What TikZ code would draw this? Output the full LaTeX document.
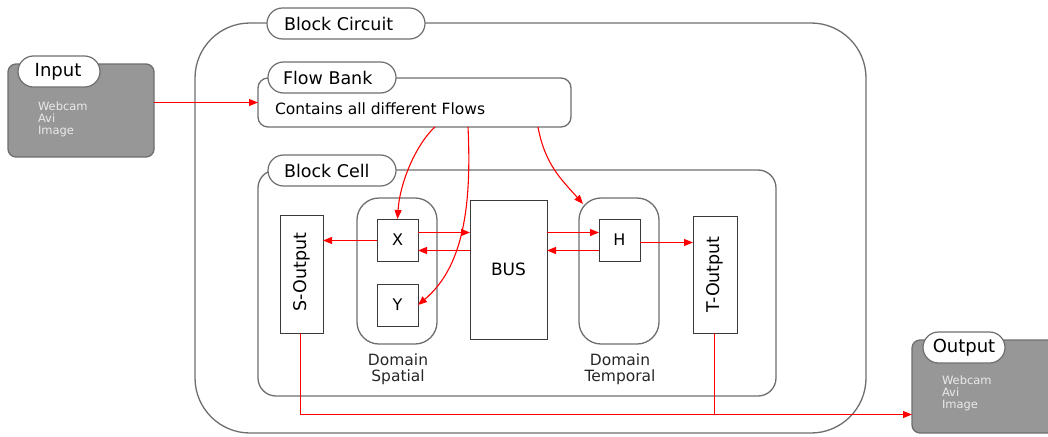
\documentclass[tikz,border=0pt]{standalone}
\usepackage{fontspec}
\setmainfont{DejaVu Sans}
\usetikzlibrary{arrows.meta,calc}
\definecolor{bord}{HTML}{6E6E6E}
\definecolor{darkb}{HTML}{3A3A3A}
\definecolor{gfill}{HTML}{979797}
\definecolor{ltxt}{HTML}{EAEAEA}
\definecolor{lnred}{HTML}{FF0000}
\begin{document}
\begin{tikzpicture}[x=1pt,y=-1pt,
  every node/.style={inner sep=0pt, outer sep=0pt},
  container/.style={draw=bord, line width=1.3pt, anchor=north west},
  graybox/.style={draw=bord, fill=gfill, line width=1.3pt, rounded corners=8pt, anchor=north west},
  pill/.style={draw=bord, fill=white, line width=1.2pt, rounded corners=15.5pt, minimum height=31pt, anchor=north west},
  tabtext/.style={anchor=west, font=\fontsize{17.5}{20}\selectfont},
  inner/.style={draw=darkb, line width=0.9pt, fill=white, anchor=north west, font=\fontsize{16}{19}\selectfont},
  lighttext/.style={anchor=north west, align=left, text=ltxt, font=\fontsize{11.5}{12}\selectfont},
  domlabel/.style={align=center, font=\fontsize{15.5}{15.5}\selectfont, text=black!85},
  conn/.style={draw=lnred, line width=1.1pt, -{Triangle[length=9pt,width=7pt]}},
  wire/.style={draw=lnred, line width=1.1pt}]
\useasboundingbox (0,0) rectangle (1048,436);
\clip (0,0) rectangle (1048,436);

% Input
\node[graybox, minimum width=146pt, minimum height=93pt] (input) at (8,64) {};
\node[pill, minimum width=82pt] (inputtab) at (18,56) {};
\node[font=\fontsize{18}{20}\selectfont] (inputlbl) at ([xshift=-1pt]inputtab.center) {Input};
\node[lighttext] (inputtxt) at (38,102) {Webcam\\Avi\\Image};

% Output
\node[graybox, minimum width=160pt, minimum height=93pt] (output) at (912,340) {};
\node[pill, minimum width=82pt] (outputtab) at (923,332) {};
\node[font=\fontsize{18}{20}\selectfont] (outputlbl) at (outputtab.center) {Output};
\node[lighttext] (outputtxt) at (942,376) {Webcam\\Avi\\Image};

% Block Circuit
\node[container, rounded corners=55pt, minimum width=671pt, minimum height=410pt] (circuit) at (195,23) {};
\node[pill, minimum width=158pt] (circuittab) at (267,8) {};
\node[tabtext] (circuitlbl) at ([xshift=17pt]circuittab.west) {Block Circuit};

% Flow Bank
\node[container, fill=white, rounded corners=10pt, minimum width=313pt, minimum height=49pt] (flowbank) at (258,78) {};
\node[pill, minimum width=128pt] (flowtab) at (268,62) {};
\node[tabtext] (flowlbl) at ([xshift=15pt]flowtab.west) {Flow Bank};
\node[anchor=west, font=\fontsize{15.5}{18}\selectfont] (flowtxt) at (275,109) {Contains all different Flows};

% Block Cell
\node[container, rounded corners=18pt, minimum width=518pt, minimum height=226pt] (cell) at (258,170) {};
\node[pill, minimum width=128pt] (celltab) at (268,155) {};
\node[tabtext] (celllbl) at ([xshift=16pt]celltab.west) {Block Cell};

% Domains
\node[container, rounded corners=22pt, minimum width=80pt, minimum height=146pt] (dspatial) at (357,198) {};
\node[container, rounded corners=22pt, minimum width=80pt, minimum height=146pt] (dtemporal) at (579,198) {};
\node[domlabel] (dspatiallbl) at (398,369) {Domain\\Spatial};
\node[domlabel] (dtemporallbl) at (620,369) {Domain\\Temporal};

% Inner boxes
\node[inner, minimum width=43pt, minimum height=118pt] (soutput) at (280,215) {};
\node[rotate=90, font=\fontsize{17.5}{20}\selectfont] (soutlbl) at ([yshift=2pt]soutput.center) {S-Output};
\node[inner, minimum width=44pt, minimum height=117pt] (toutput) at (693,216) {};
\node[rotate=90, font=\fontsize{17.5}{20}\selectfont] (toutlbl) at (toutput.center) {T-Output};
\node[inner, minimum width=41pt, minimum height=42pt] (X) at (377,219) {X};
\node[inner, minimum width=41pt, minimum height=42pt] (Y) at (377,284) {Y};
\node[inner, minimum width=41pt, minimum height=42pt] (H) at (599,219) {H};
\node[inner, minimum width=77pt, minimum height=139pt, font=\fontsize{17}{20}\selectfont] (bus) at (470,200) {BUS};

% Input -> Flow Bank
\draw[conn] (input.east |- 0,102.5) -- (flowbank.west |- 0,102.5);

% Local connections
\draw[conn] (X.west |- 0,240.5) -- (soutput.east |- 0,240.5);
\draw[conn] (X.east |- 0,232.5) -- (bus.west |- 0,232.5);
\draw[conn] (bus.west |- 0,250.5) -- (X.east |- 0,250.5);
\draw[conn] (bus.east |- 0,232.5) -- (H.west |- 0,232.5);
\draw[conn] (H.west |- 0,250.5) -- (bus.east |- 0,250.5);
\draw[conn] (H.east |- 0,242.5) -- (toutput.west |- 0,242.5);

% Flow bank curves
\coordinate (fbA) at (flowbank.south -| 435,0);
\coordinate (fbB) at (flowbank.south -| 468,0);
\coordinate (fbC) at (flowbank.south -| 538,0);
\draw[conn] (fbA) .. controls (418,142) and (400,180) .. (X.north);
\draw[conn] (fbB) .. controls (472,210) and (462,268) .. (Y.east |- 0,305);
\draw[conn] (fbC) .. controls (545,165) and (562,180) .. (583,204);

% Outputs to Output
\coordinate (join) at (714.5,414.5);
\coordinate (sdrop) at (300.5,333);
\draw[wire] (sdrop) |- (join);
\draw[wire] (toutput.south -| join) -- (join);
\draw[conn] (join) -- (output.west |- join);
\end{tikzpicture}
\end{document}
